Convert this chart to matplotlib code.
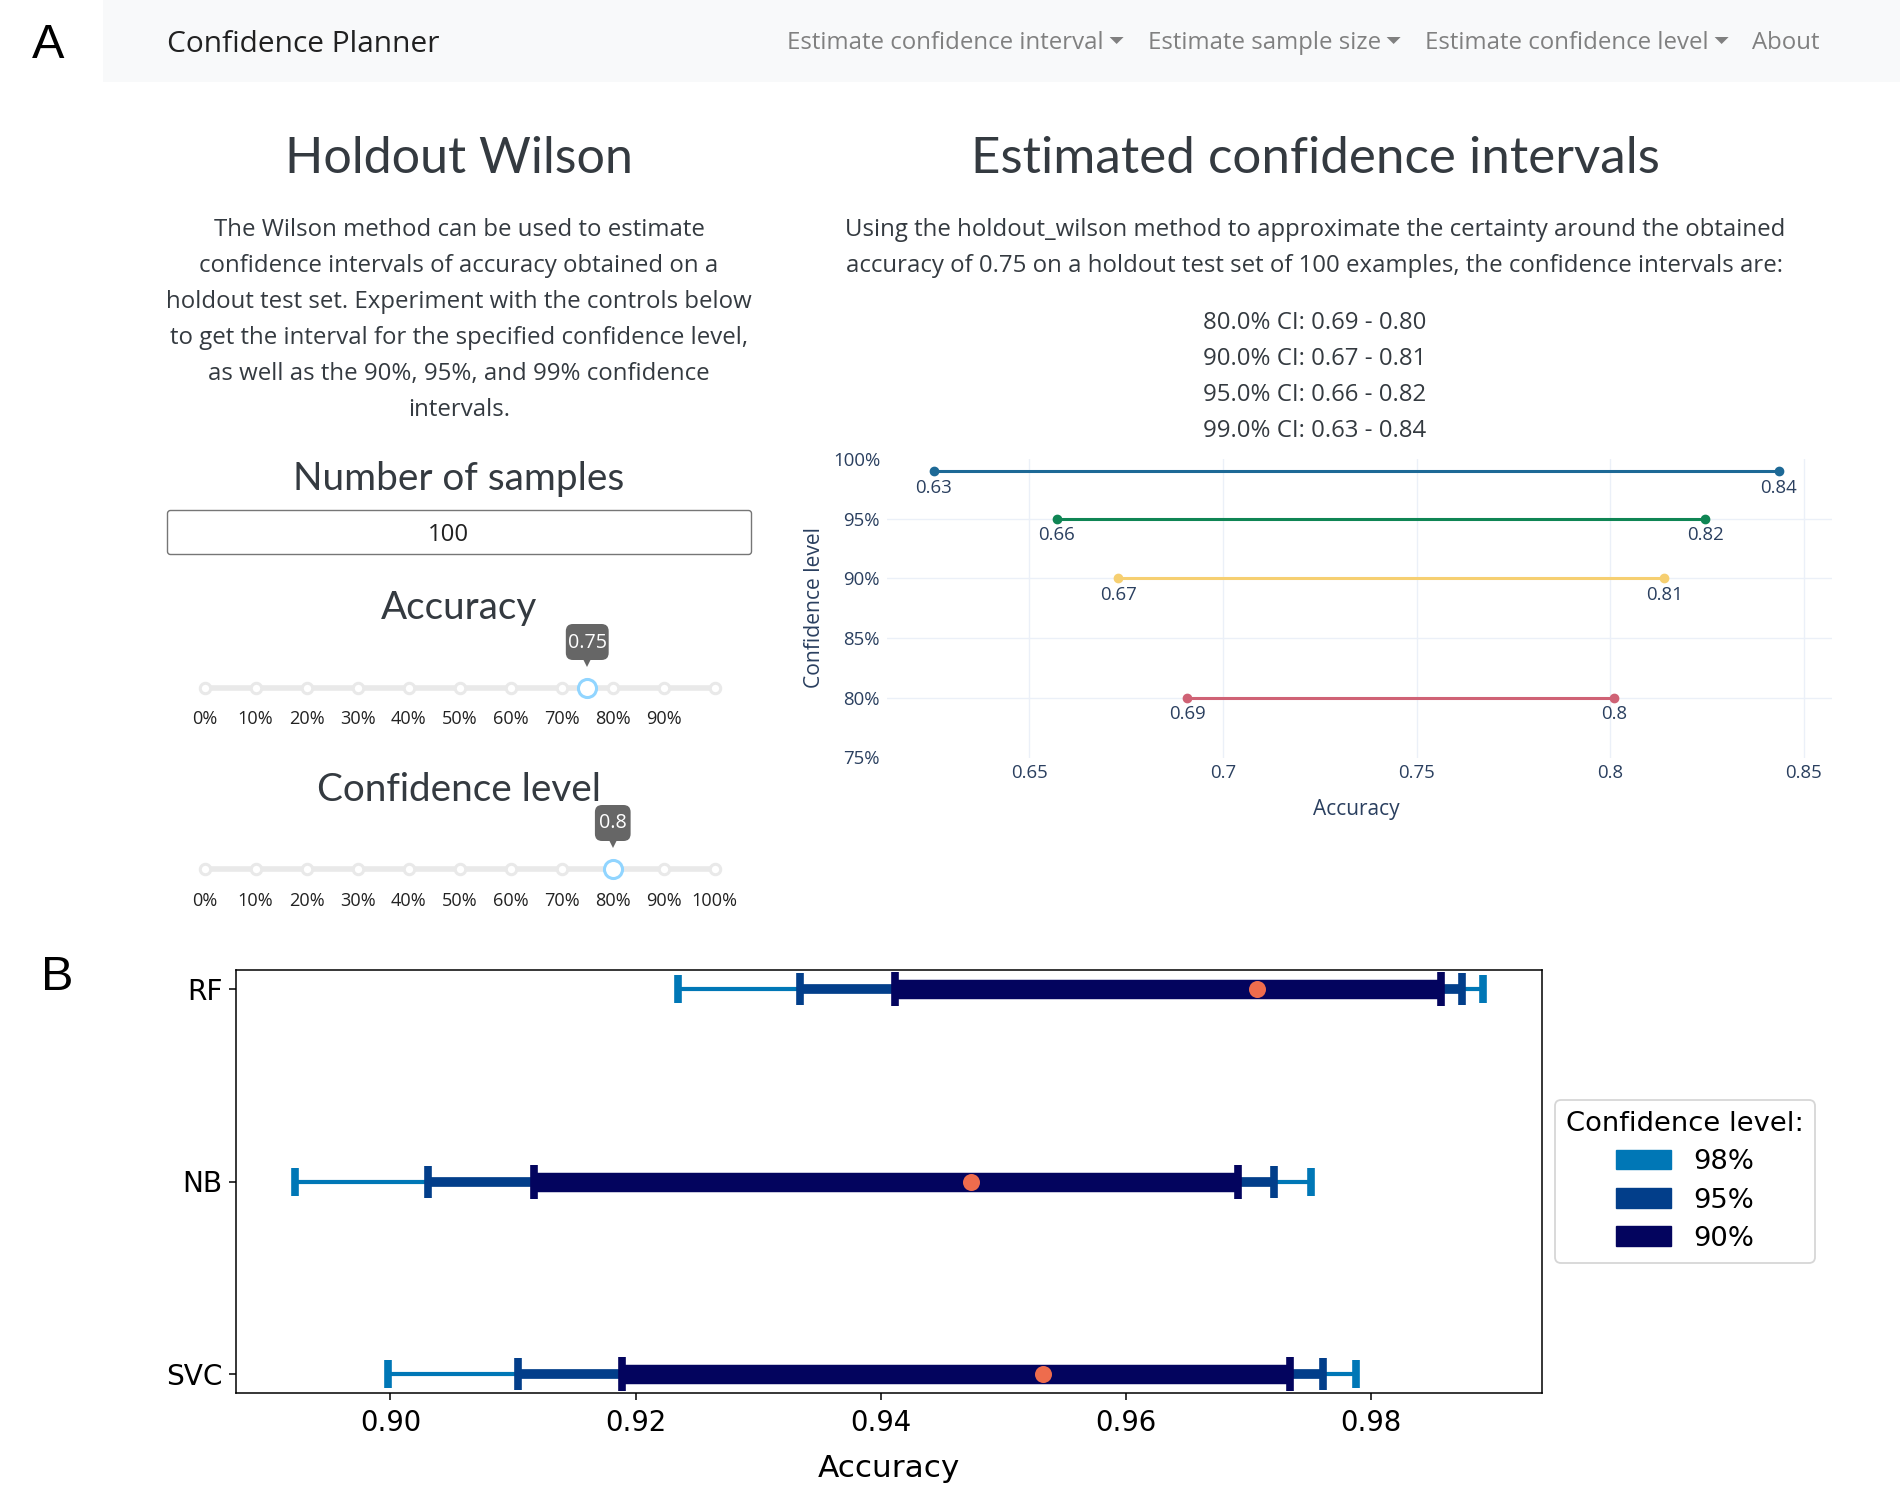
import matplotlib
matplotlib.use("Agg")
from matplotlib import pyplot as plt
from matplotlib.patches import FancyBboxPatch, Patch, Rectangle

# Panel A text
navItems = ["Estimate confidence interval", "Estimate sample size",
            "Estimate confidence level", "About"]
navLefts = [787, 1147.5, 1425, 1752.5]
introLines = ["The Wilson method can be used to estimate",
              "confidence intervals of accuracy obtained on a",
              "holdout test set. Experiment with the controls below",
              "to get the interval for the specified confidence level,",
              "as well as the 90%, 95%, and 99% confidence",
              "intervals."]
resultLines = ["Using the holdout_wilson method to approximate the certainty around the obtained",
               "accuracy of 0.75 on a holdout test set of 100 examples, the confidence intervals are:"]
ciLines = ["80.0% CI: 0.69 - 0.80", "90.0% CI: 0.67 - 0.81",
           "95.0% CI: 0.66 - 0.82", "99.0% CI: 0.63 - 0.84"]

# Sliders
sliderTicks = [0, 10, 20, 30, 40, 50, 60, 70, 80, 90, 100]
accuracyLabels = ["0%", "10%", "20%", "30%", "40%", "50%", "60%", "70%",
                  "80%", "90%", ""]
confidenceLabels = ["0%", "10%", "20%", "30%", "40%", "50%", "60%", "70%",
                    "80%", "90%", "100%"]
accuracySlider = 75
confidenceSlider = 80

# Panel A chart
levels = [99, 95, 90, 80]
lowerBounds = [0.6253, 0.6570, 0.6729, 0.6908]
upperBounds = [0.8436, 0.8246, 0.8140, 0.8011]
lowerLabels = ["0.63", "0.66", "0.67", "0.69"]
upperLabels = ["0.84", "0.82", "0.81", "0.8"]
levelColors = ["#1d6996", "#0f8554", "#f6cf71", "#cf6275"]
accTicks = [0.65, 0.7, 0.75, 0.8, 0.85]
accTickLabels = ["0.65", "0.7", "0.75", "0.8", "0.85"]
levelTicks = [75, 80, 85, 90, 95, 100]
levelTickLabels = ["75%", "80%", "85%", "90%", "95%", "100%"]

# Panel B chart
models = ["RF", "NB", "SVC"]
modelPos = [2, 1, 0]
pointEstimates = [0.97068, 0.94735, 0.95322]
low98 = [0.92345, 0.89224, 0.89980]
high98 = [0.98911, 0.97508, 0.97875]
low95 = [0.93340, 0.90306, 0.91044]
high95 = [0.98740, 0.97207, 0.97606]
low90 = [0.94115, 0.91170, 0.91888]
high90 = [0.98567, 0.96913, 0.97337]

WIDTH = 1900
HEIGHT = 1500
BODY = "Open Sans"
HEAD = "Lato"
TEXTCOLOR = "#343a40"
PLOTLYTEXT = "#2a3f5f"


def axesPx(fig, left, top, right, bottom):
    """
    Add axes placed by pixel edges, measured from the top left.
    """
    return fig.add_axes([left / WIDTH, 1 - bottom / HEIGHT,
                         (right - left) / WIDTH, (bottom - top) / HEIGHT])


def drawSlider(fig, yCenter, labels, value, valueText, tipWidth):
    """
    Draw one slider; y data of the axes is pixels from the track.
    """
    ax = axesPx(fig, 204.6, yCenter - 70, 714.8, yCenter + 50)
    ax.set_xlim(0, 100)
    ax.set_ylim(50, -70)
    ax.axis("off")
    ax.patch.set_alpha(0)

    # Track with its dots
    ax.plot([sliderTicks[0], sliderTicks[-1]], [0, 0], color="#e9e9e9", lw=4,
            solid_capstyle="butt", zorder=1)
    ax.plot(sliderTicks, [0] * len(sliderTicks), "o", ms=7.5, mfc="white",
            mec="#e9e9e9", mew=2.2, zorder=2, clip_on=False)

    # Handle
    ax.plot([value], [0], "o", ms=13, mfc="white", mec="#91d5ff", mew=2.2,
            zorder=3, clip_on=False)

    # Tooltip above the handle
    ax.plot([value], [-26], "v", ms=6.5, color="#666666", mew=0, zorder=3,
            clip_on=False)
    ax.add_patch(FancyBboxPatch((value - tipWidth / 2, -64), tipWidth, 36,
                                boxstyle="round,pad=0,rounding_size=1.4",
                                mutation_aspect=5.1, fc="#666666", ec="none",
                                zorder=4, clip_on=False))
    ax.text(value, -45.5, valueText, color="white", fontsize=14.2, family=BODY,
            ha="center", va="center", zorder=5)

    # Labels under the track
    for tick, label in zip(sliderTicks, labels):
        ax.text(tick, 36.5, label, color="#222222", fontsize=13.1, family=BODY,
                ha="center", va="baseline")


def drawPanelA(fig):
    """
    Draw navigation bar, text, controls and confidence interval chart.
    """
    ui = axesPx(fig, 0, 0, WIDTH, HEIGHT)
    ui.set_xlim(0, WIDTH)
    ui.set_ylim(HEIGHT, 0)
    ui.axis("off")

    ui.add_patch(Rectangle((103, 0), WIDTH - 103, 82, fc="#f8f9fa", ec="none"))
    ui.text(32, 58, "A", fontsize=35, family="Liberation Sans", color="black")
    ui.text(41, 989.5, "B", fontsize=35, family="Liberation Sans",
            color="black")
    ui.text(167, 52, "Confidence Planner", fontsize=21.55, family=BODY,
            color="#212121")

    # Navigation items, the first three have a caret
    for i, (item, left) in enumerate(zip(navItems, navLefts)):
        label = ui.text(left, 49, item, fontsize=17.25, family=BODY,
                        color="#808080")
        if i < 3:
            box = label.get_window_extent(fig.canvas.get_renderer())
            caretX = box.x1 + 13
            ui.fill([caretX - 7, caretX + 7, caretX], [37, 37, 44],
                    color="#808080", lw=0)

    # Headings
    ui.text(459, 173, "Holdout Wilson", fontsize=36.1, family=HEAD,
            color=TEXTCOLOR, ha="center")
    ui.text(1315, 173, "Estimated confidence intervals", fontsize=36.8,
            family=HEAD, color=TEXTCOLOR, ha="center")
    ui.text(459, 490, "Number of samples", fontsize=27.9, family=HEAD,
            color=TEXTCOLOR, ha="center")
    ui.text(459, 619, "Accuracy", fontsize=27.8, family=HEAD,
            color=TEXTCOLOR, ha="center")
    ui.text(459, 801, "Confidence level", fontsize=27.8, family=HEAD,
            color=TEXTCOLOR, ha="center")

    # Paragraphs
    for i, line in enumerate(introLines):
        ui.text(459, 236 + 36 * i, line, fontsize=17.25, family=BODY,
                color=TEXTCOLOR, ha="center")
    for i, line in enumerate(resultLines):
        ui.text(1315, 236 + 36 * i, line, fontsize=17.25, family=BODY,
                color=TEXTCOLOR, ha="center")
    for i, line in enumerate(ciLines):
        ui.text(1315, 329 + 36 * i, line, fontsize=17.25, family=BODY,
                color=TEXTCOLOR, ha="center")

    # Number of samples box
    ui.add_patch(FancyBboxPatch((167.5, 510.5), 584, 44,
                                boxstyle="round,pad=0,rounding_size=3",
                                fc="white", ec="#767676", lw=1))
    ui.text(448.5, 541, "100", fontsize=17.25, family=BODY, color="#212121",
            ha="center")

    drawSlider(fig, 688, accuracyLabels, accuracySlider, "0.75", 8.4)
    drawSlider(fig, 869, confidenceLabels, confidenceSlider, "0.8", 7.0)

    # Chart with the estimated intervals
    ax = axesPx(fig, 887, 459, 1832, 757.5)
    ax.patch.set_alpha(0)
    ax.set_xlim(0.6132, 0.8573)
    ax.set_ylim(75, 100)
    for spine in ax.spines.values():
        spine.set_visible(False)
    ax.set_xticks(accTicks, accTickLabels)
    ax.set_yticks(levelTicks, levelTickLabels)
    ax.tick_params(length=0, labelsize=13.4, labelcolor=PLOTLYTEXT)
    ax.tick_params(axis="x", pad=5)
    ax.tick_params(axis="y", pad=5)
    for label in ax.get_xticklabels() + ax.get_yticklabels():
        label.set_family(BODY)
    ax.grid(color="#ebf0f8", lw=1)
    ax.set_axisbelow(True)
    ax.get_ygridlines()[0].set_visible(False)
    ax.get_ygridlines()[-1].set_visible(False)

    for i in range(len(levels)):
        ax.plot([lowerBounds[i], upperBounds[i]], [levels[i], levels[i]],
                color=levelColors[i], lw=2.2, marker="o", ms=6, clip_on=False)
        ax.annotate(lowerLabels[i], (lowerBounds[i], levels[i]),
                    xytext=(0, -12), textcoords="offset points", ha="center",
                    va="center", fontsize=13.4, family=BODY, color=PLOTLYTEXT)
        ax.annotate(upperLabels[i], (upperBounds[i], levels[i]),
                    xytext=(0, -12), textcoords="offset points", ha="center",
                    va="center", fontsize=13.4, family=BODY, color=PLOTLYTEXT)

    ax.set_xlabel("Accuracy", fontsize=15, family=BODY, color=PLOTLYTEXT,
                  labelpad=12, x=0.497)
    ui.text(814, 608, "Confidence level", fontsize=15.2, family=BODY,
            color=PLOTLYTEXT, rotation=90, ha="center", va="center")


def drawPanelB(fig):
    """
    Draw interval comparison for the three models.
    """
    ax = axesPx(fig, 236, 970, 1542, 1393)
    ax.set_xlim(0.8874, 0.99395)
    ax.set_ylim(-0.1, 2.1)

    series = [(low98, high98, "#0077b6", 3, 19.5, 5.5, "98%"),
              (low95, high95, "#023e8a", 7, 22.5, 5.5, "95%"),
              (low90, high90, "#03045e", 14, 25, 5.5, "90%")]

    handles = []
    for low, high, color, width, capHeight, capWidth, name in series:
        centers = [(a + b) / 2 for a, b in zip(low, high)]
        spreads = [(b - a) / 2 for a, b in zip(low, high)]
        ax.errorbar(centers, modelPos, xerr=spreads, fmt="none", ecolor=color,
                    elinewidth=width, capsize=capHeight / 2, capthick=capWidth)
        handles.append(Patch(color=color, label=name))

    ax.scatter(pointEstimates, modelPos, s=150, color="#ee6c4d", zorder=5,
               linewidths=0)

    ax.set_yticks(modelPos, models)
    ax.set_xticks([0.90, 0.92, 0.94, 0.96, 0.98])
    ax.set_xticklabels(["0.90", "0.92", "0.94", "0.96", "0.98"])
    ax.tick_params(labelsize=19.8, width=1.1, length=5)
    ax.tick_params(axis="x", pad=6.2)
    ax.tick_params(axis="y", labelsize=20.2, pad=4.5)
    ax.set_xlabel("Accuracy", fontsize=22.4, labelpad=12.5)
    for spine in ax.spines.values():
        spine.set_linewidth(1.1)

    legend = ax.legend(handles=handles, title="Confidence level:", fontsize=19.7,
                       title_fontsize=19.7, loc="center left", labelspacing=0.44,
                       bbox_to_anchor=(1.01, 0.5), borderaxespad=0)
    legend.get_frame().set_linewidth(1.3)


fig = plt.figure(figsize=(WIDTH / 100, HEIGHT / 100), dpi=100)
drawPanelA(fig)
drawPanelB(fig)
fig.savefig("out.png", dpi=100)
